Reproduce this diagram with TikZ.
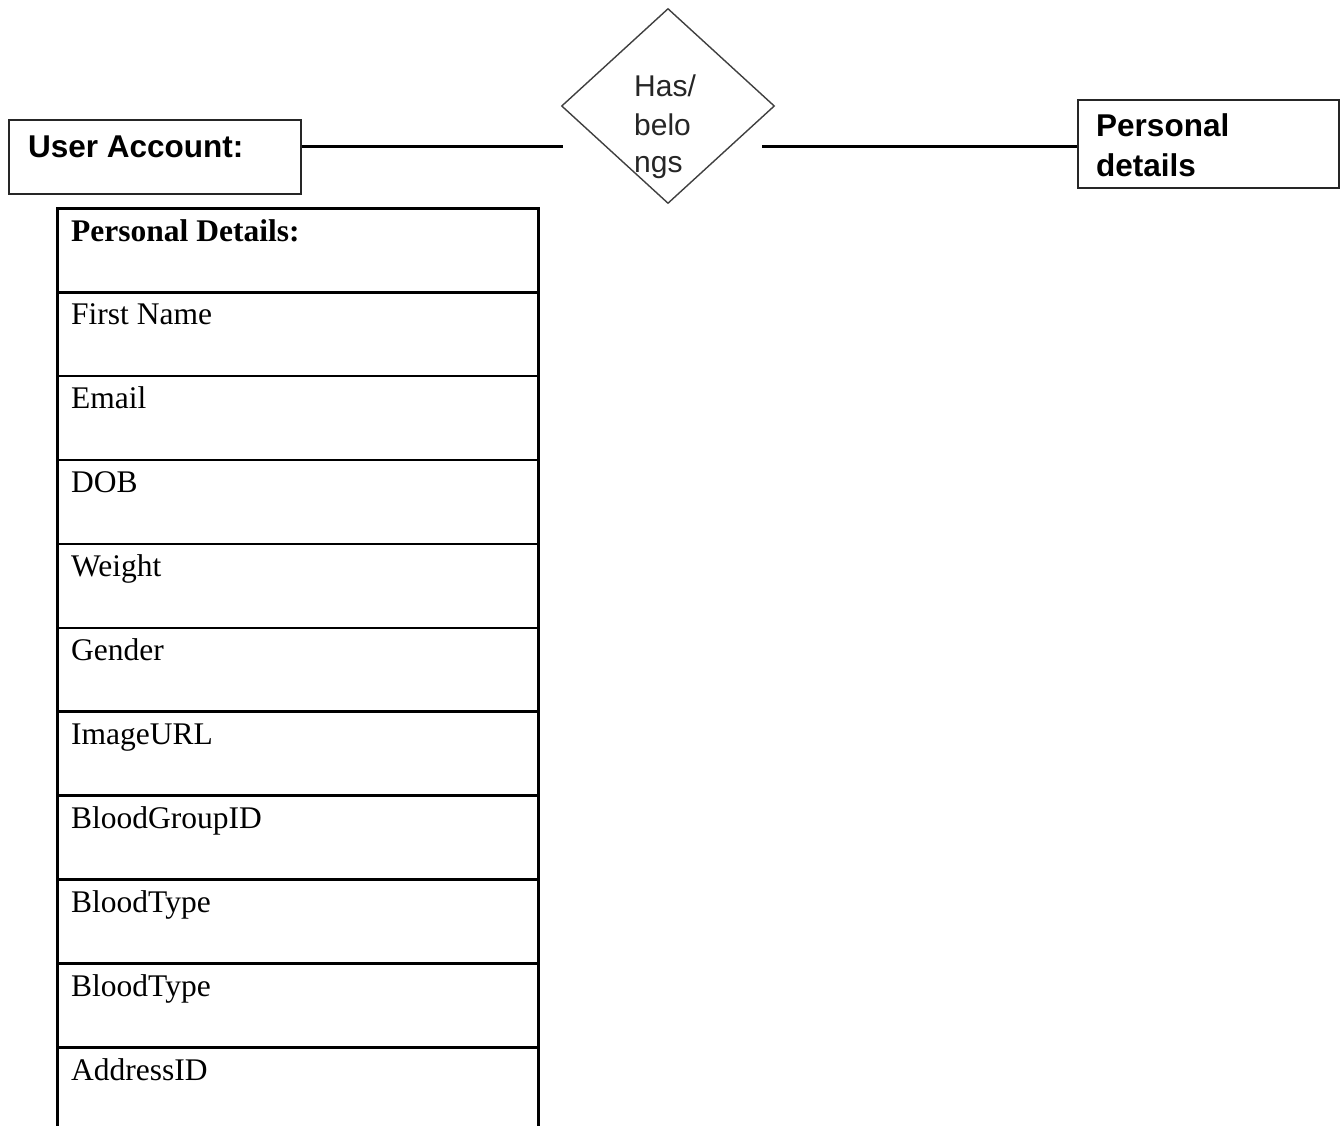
\documentclass[tikz,border=0pt]{standalone}
\usepackage{fontspec}
\setmainfont{Liberation Serif}
\newfontfamily\arialfont{Liberation Sans}
\usetikzlibrary{shapes.geometric}
\begin{document}
\begin{tikzpicture}[x=1pt,y=-1pt,
  entitybox/.style={draw=black!85, line width=2pt, inner sep=0pt, anchor=north west},
  relation/.style={diamond, draw=black!75, line width=1.4pt, inner sep=0pt},
  link/.style={draw=black, line width=3pt},
  rowbox/.style={draw=black, line width=2.6pt, inner sep=0pt, anchor=north west,
                 minimum width=481pt, minimum height=83.9pt},
  headtext/.style={font=\arialfont\bfseries\fontsize{31.5}{36}\selectfont, anchor=base west, inner sep=0pt},
  reltext/.style={font=\arialfont\fontsize{30}{36}\selectfont, text=black!85, anchor=base west, inner sep=0pt},
  celltext/.style={font=\fontsize{31.5}{36}\selectfont, anchor=base west, inner sep=0pt},
]
\useasboundingbox (0,0) rectangle (1340,1126);
\clip (0,0) rectangle (1340,1126);
\fill[white] (0,0) rectangle (1340,1126);

% entities
\node[entitybox, minimum width=292pt, minimum height=74pt] (ua) at (7.5,119) {};
\node[headtext] (uatext) at (28,158) {User Account:};

\node[entitybox, minimum width=261pt, minimum height=88pt] (pd) at (1077,99.5) {};
\node[headtext] (pdtext1) at (1096,137) {Personal};
\node[headtext] (pdtext2) at (1096,176) {details};

% relationship
\node[relation, minimum width=213pt, minimum height=195pt] (rel) at (668,106) {};
\node[reltext] (reltext1) at (634,97) {Has/};
\node[reltext] (reltext2) at (634,136) {belo};
\node[reltext] (reltext3) at (634,172) {ngs};

% connectors
\coordinate (lend) at (563,147);
\coordinate (rstart) at (762,147);
\draw[link] (ua.east |- lend) -- (lend);
\draw[link] (rstart) -- (pd.west |- rstart);

% attribute table
\foreach \txt [count=\i from 0] in {\textbf{Personal Details:}, First Name, Email, DOB, Weight,
    Gender, ImageURL, BloodGroupID, BloodType, BloodType, AddressID} {
  \node[rowbox] (row\i) at (56,{207+83.9*\i}) {};
  \node[celltext] (cell\i) at (71,{241+83.9*\i}) {\txt};
}
\end{tikzpicture}
\end{document}
